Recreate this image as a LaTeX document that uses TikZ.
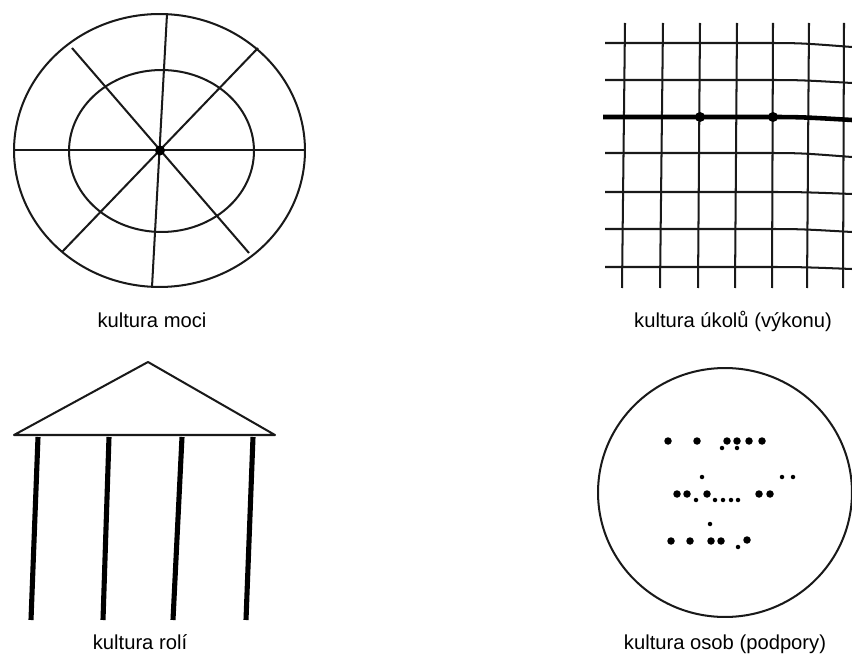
\documentclass[tikz,border=0pt]{standalone}
\usepackage{fontspec}
\setmainfont{Liberation Sans}
\usepackage{tikz}
\usetikzlibrary{positioning,calc}
\tikzset{
  thinline/.style={draw=black!90, line width=1.15pt},
  boldline/.style={draw=black, line width=2.6pt},
  pillar/.style={draw=black, line width=2.9pt},
  caption/.style={font=\fontsize{11.5}{13}\selectfont, inner sep=0pt, anchor=base},
}

\begin{document}
\begin{tikzpicture}[x=0.02cm, y=-0.02cm]
  \useasboundingbox (0,0) rectangle (852,655);

  % kultura moci
  \coordinate (hub) at (160,150.5);
  \draw[thinline] (159.5,150.5) ellipse [x radius=2.91cm, y radius=2.73cm];
  \draw[thinline] (161.5,151) ellipse [x radius=1.85cm, y radius=1.62cm];
  \draw[thinline] (14,150) -- (305,150);
  \draw[thinline] (167,14) -- (152,287);
  \draw[thinline] (72,48) -- (249,253);
  \draw[thinline] (258,48) -- (62,252);
  \fill (hub) circle (0.1cm);
  \node (moci) [caption] at (152,327) {kultura moci};

  % kultura úkolů
  \foreach \xt/\xb in {625/622, 663/660, 700/698, 737/735, 773/772, 809/807, 844/843}
    \draw[thinline] (\xt,23) -- (\xb,288);
  \foreach \y/\d in {43/4, 80/3, 153/4, 192/2, 229/3, 267/2}
    \draw[thinline] (605,\y) -- (760,\y) .. controls (800,\y) .. (852,\y+\d);
  \draw[boldline] (603,117) -- (760,117) .. controls (800,117) .. (852,120);
  \fill (700,117) circle (0.1cm) (773,117) circle (0.1cm);
  \node (ukolu) [caption] at (733,327) {kultura úkolů (výkonu)};

  % kultura rolí
  \draw[thinline, line join=round] (14,435) -- (148,362) -- (275,435) -- cycle;
  \foreach \xt/\xb in {38/31, 109/103, 182/173, 253/246}
    \draw[pillar] (\xt,437) -- (\xb,620);
  \node (roli) [caption] at (140,649) {kultura rolí};

  % kultura osob
  \draw[thinline] (725,492.5) ellipse [x radius=2.54cm, y radius=2.49cm];
  \foreach \p in {(668,441),(697,441),(727,441),(737,441),(749,441),(762,441),
                  (677,494),(687,494),(707,494),(759,494),(770,494),
                  (671,541),(690,541),(711,541),(721,541),(747,540)}
    \fill \p circle (0.075cm);
  \foreach \p in {(722,448),(737,448),(702,477),(782,477),(793,477),
                  (696,500),(715,500),(723,500),(731,500),(738,500),
                  (710,524),(738,547)}
    \fill \p circle (0.045cm);
  \node (osob) [caption] at (725,649) {kultura osob (podpory)};
\end{tikzpicture}
\end{document}
